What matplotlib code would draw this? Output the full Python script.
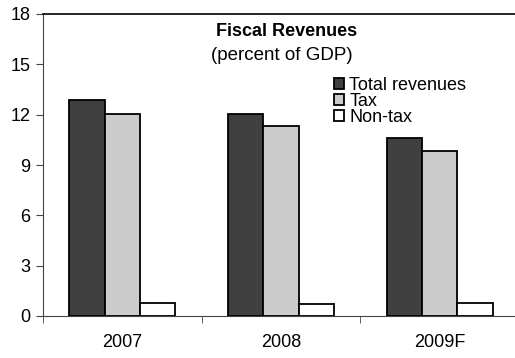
import numpy as np
import matplotlib.pyplot as plt
from matplotlib.patches import Patch

plt.rcParams['font.family'] = ['Liberation Sans', 'DejaVu Sans']

years = ['2007', '2008', '2009F']
series = ['Total revenues', 'Tax', 'Non-tax']
total = [12.9, 12.05, 10.6]
tax = [12.05, 11.3, 9.85]
nontax = [0.75, 0.72, 0.75]
colors = ['#404040', '#cccccc', '#ffffff']

fig = plt.figure(figsize=(5.15, 3.58), dpi=100)
ax = fig.add_axes([43/515, 42/358, 476/515, 302/358])

x = np.arange(len(years))
w = 0.222
for i, (vals, c) in enumerate(zip([total, tax, nontax], colors)):
    ax.bar(x + (i - 1) * w, vals, w, color=c, edgecolor='black', linewidth=1.3, zorder=3)

ax.set_xlim(-0.5, 2.5)
ax.set_ylim(0, 18)
ax.set_yticks(range(0, 19, 3))
ax.set_xticks(x)
ax.set_xticklabels(years)
ax.set_xticks([-0.5, 0.5, 1.5], minor=True)
ax.tick_params(axis='x', which='major', length=0, pad=13, labelsize=13)
ax.tick_params(axis='x', which='minor', length=5, direction='out', color='#444444')
ax.tick_params(axis='y', length=5, direction='out', labelsize=13, pad=4, color='#444444')

ax.spines['right'].set_visible(False)
ax.spines['top'].set_linewidth(1.2)
ax.spines['left'].set_color('#444444')
ax.spines['bottom'].set_color('#444444')

fig.text(287/515, 1 - 32/358, 'Fiscal Revenues', ha='center', va='center',
         fontsize=13, fontweight='bold')
fig.text(282/515, 1 - 56/358, '(percent of GDP)', ha='center', va='center', fontsize=13.5)

handles = [Patch(facecolor=c, edgecolor='black', linewidth=1.3) for c in colors]
ax.legend(handles, series, loc='upper left', bbox_to_anchor=(325/515, 1 - 68/358),
          bbox_transform=fig.transFigure, frameon=False, fontsize=13, borderpad=0,
          handlelength=0.55, handleheight=0.55, handletextpad=0.3, labelspacing=-0.05)

fig.savefig('out.png', dpi=100)
